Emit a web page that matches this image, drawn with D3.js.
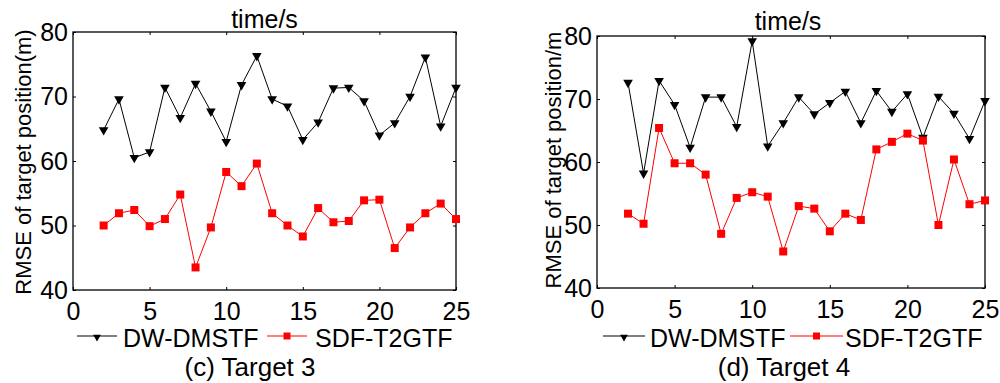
<!DOCTYPE html>
<html>
<head>
<meta charset="utf-8">
<script src="https://cdn.jsdelivr.net/npm/d3@7"></script>
<style>
body { margin: 0; background: white; }
svg { display: block; }
text { font-family: "Liberation Sans", Arial, sans-serif; fill: black; }
.axis path.domain { display: none; }
.axis line { stroke: black; stroke-width: 1; }
</style>
</head>
<body>
<script>

// time steps (s)
var timeSteps = [2, 3, 4, 5, 6, 7, 8, 9, 10, 11, 12, 13, 14, 15, 16, 17, 18, 19, 20, 21, 22, 23, 24, 25];

// (c) Target 3
var dwT3 = [64.8, 69.6, 60.5, 61.4, 71.4, 66.7, 72.0, 67.7, 63.0, 71.8, 76.3, 69.6,
            68.5, 63.3, 66.0, 71.3, 71.4, 69.3, 64.0, 65.9, 70.0, 76.1, 65.4, 71.4];
var sdfT3 = [50.0, 51.9, 52.4, 49.9, 51.0, 54.8, 43.5, 49.7, 58.3, 56.1, 59.6, 51.9,
             50.0, 48.3, 52.7, 50.5, 50.7, 53.9, 54.0, 46.5, 49.7, 51.9, 53.4, 51.0];

// (d) Target 4
var dwT4 = [72.6, 58.2, 72.9, 69.1, 62.3, 70.3, 70.3, 65.6, 79.2, 62.5, 66.2, 70.3,
            67.6, 69.4, 71.2, 66.2, 71.3, 68.0, 70.8, 63.9, 70.4, 67.7, 63.7, 69.7];
var sdfT4 = [51.8, 50.2, 65.4, 59.8, 59.8, 58.0, 48.6, 54.3, 55.2, 54.5, 45.8, 53.0,
             52.6, 49.0, 51.8, 50.8, 62.0, 63.2, 64.5, 63.4, 50.0, 60.4, 53.3, 53.9];

var xTicks = [0, 5, 10, 15, 20, 25];
var yTicks = [40, 50, 60, 70, 80];
var seriesNames = ["DW-DMSTF", "SDF-T2GTF"];

var W = 1000, H = 383;
var svg = d3.select("body").append("svg").attr("width", W).attr("height", H);

function drawPanel(p) {
	var x = d3.scaleLinear().domain([0, 25]).range([p.left, p.right]);
	var y = d3.scaleLinear().domain([40, 80]).range([p.bottom, p.top]);
	var g = svg.append("g");

	// inward ticks on all four sides
	g.append("g").attr("class", "axis").attr("transform", "translate(0," + p.bottom + ")")
		.call(d3.axisBottom(x).tickValues(xTicks).tickSizeInner(-3).tickSizeOuter(0).tickPadding(12))
		.selectAll("text").style("font-size", "25px");
	g.append("g").attr("class", "axis").attr("transform", "translate(0," + p.top + ")")
		.call(d3.axisTop(x).tickValues(xTicks).tickSizeInner(-3).tickSizeOuter(0).tickFormat(""));
	g.append("g").attr("class", "axis").attr("transform", "translate(" + p.left + ",0)")
		.call(d3.axisLeft(y).tickValues(yTicks).tickSizeInner(-3).tickSizeOuter(0).tickPadding(5))
		.selectAll("text").style("font-size", "25px");
	g.append("g").attr("class", "axis").attr("transform", "translate(" + p.right + ",0)")
		.call(d3.axisRight(y).tickValues(yTicks).tickSizeInner(-3).tickSizeOuter(0).tickFormat(""));
	g.selectAll(".axis text").attr("font-family", null).attr("fill", "black");

	g.append("rect")
		.attr("x", p.left).attr("y", p.top)
		.attr("width", p.right - p.left).attr("height", p.bottom - p.top)
		.attr("fill", "none").attr("stroke", "black").attr("stroke-width", 1.3);

	// title above the box
	g.append("text").attr("x", (p.left + p.right) / 2 + p.titleDx).attr("y", p.titleY)
		.attr("text-anchor", "middle").style("font-size", "25px").text("time/s");

	// y label
	g.append("text")
		.attr("transform", "translate(" + p.ylabX + "," + p.ylabY + ") rotate(-90)")
		.attr("text-anchor", "middle").style("font-size", "22px")
		.text(p.ylabel);

	var line = d3.line().x(function(d, i) { return x(timeSteps[i]); }).y(function(d) { return y(d); });

	g.append("path").datum(p.dw).attr("d", line)
		.attr("fill", "none").attr("stroke", "black").attr("stroke-width", 1);
	g.append("path").datum(p.sdf).attr("d", line)
		.attr("fill", "none").attr("stroke", "#ff0000").attr("stroke-width", 1);

	var tri = d3.symbol().type(d3.symbolTriangle).size(40);
	g.selectAll("path.tri").data(p.dw).enter().append("path").attr("class", "tri")
		.attr("d", tri)
		.attr("transform", function(d, i) { return "translate(" + x(timeSteps[i]) + "," + y(d) + ") rotate(180)"; })
		.attr("fill", "black");

	g.selectAll("rect.sq").data(p.sdf).enter().append("rect").attr("class", "sq")
		.attr("x", function(d, i) { return x(timeSteps[i]) - 4; })
		.attr("y", function(d) { return y(d) - 4; })
		.attr("width", 8).attr("height", 8)
		.attr("fill", "#ff0000");

	// legend
	var ly = 336;
	var lg = g.append("g");
	lg.append("line").attr("x1", p.leg[0]).attr("x2", p.leg[1]).attr("y1", ly).attr("y2", ly)
		.attr("stroke", "black").attr("stroke-width", 1);
	lg.append("path").attr("d", d3.symbol().type(d3.symbolTriangle).size(26))
		.attr("transform", "translate(" + (p.leg[0] + p.leg[1]) / 2 + "," + (ly + 1) + ") rotate(180)")
		.attr("fill", "black");
	lg.append("text").attr("x", p.leg[2]).attr("y", 347).style("font-size", "25px").text(seriesNames[0]);
	lg.append("line").attr("x1", p.leg[3]).attr("x2", p.leg[4]).attr("y1", ly).attr("y2", ly)
		.attr("stroke", "#ff0000").attr("stroke-width", 1);
	lg.append("rect").attr("x", (p.leg[3] + p.leg[4]) / 2 - 3.5).attr("y", ly - 3.5)
		.attr("width", 7).attr("height", 7).attr("fill", "#ff0000");
	lg.append("text").attr("x", p.leg[5]).attr("y", 347).style("font-size", "25px").text(seriesNames[1]);

	g.append("text").attr("x", p.capX).attr("y", 376)
		.attr("text-anchor", "middle").style("font-size", "26px").text(p.caption);
}

drawPanel({
	left: 73, right: 456, top: 32, bottom: 290,
	titleDx: 0, titleY: 28,
	ylabX: 31, ylabY: 162, ylabel: "RMSE of target position(m)",
	dw: dwT3, sdf: sdfT3,
	leg: [77, 117, 123, 267, 307, 315],
	capX: 250, caption: "(c) Target 3"
});

drawPanel({
	left: 597, right: 985, top: 36, bottom: 288,
	titleDx: -3, titleY: 30,
	ylabX: 561, ylabY: 160, ylabel: "RMSE of target position/m",
	dw: dwT4, sdf: sdfT4,
	leg: [603, 645, 650, 790, 843, 845],
	capX: 784, caption: "(d) Target 4"
});

</script>
</body>
</html>
